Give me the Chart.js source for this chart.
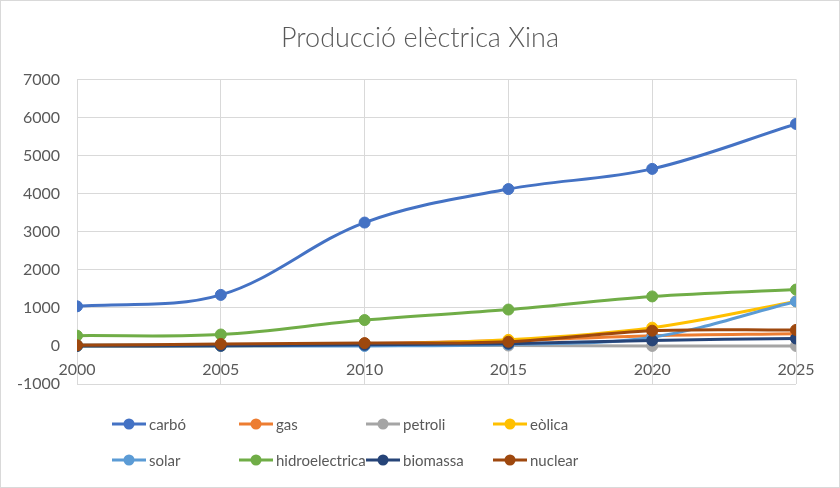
<!DOCTYPE html>
<html>
<head>
<meta charset="utf-8">
<script src="https://cdn.jsdelivr.net/npm/chart.js@4/dist/chart.umd.min.js"></script>
<style>
    body { margin: 0; background: #fff; }
    #wrap { width: 840px; height: 488px; }
</style>
</head>
<body>
<div id="wrap"><canvas id="chart" width="840" height="488"></canvas></div>
<script>
// dades (TWh aprox.)
const years = [2000, 2005, 2010, 2015, 2020, 2025];
const carbo = [1040, 1340, 3240, 4120, 4650, 5830];
const gas = [15, 25, 60, 140, 270, 320];
const petroli = [30, 25, 10, 10, 0, 0];
const eolica = [0, 2, 40, 160, 480, 1170];
const solar = [0, 0, 1, 40, 230, 1170];
const hidro = [270, 300, 680, 955, 1300, 1480];
const biomassa = [0, 5, 30, 60, 145, 195];
const nuclear = [17, 50, 74, 110, 400, 420];

const seriesNames = ['carbó', 'gas', 'petroli', 'eòlica', 'solar', 'hidroelectrica', 'biomassa', 'nuclear'];
const seriesValues = [carbo, gas, petroli, eolica, solar, hidro, biomassa, nuclear];
const seriesColors = ['#4472C4', '#ED7D31', '#A5A5A5', '#FFC000', '#5B9BD5', '#70AD47', '#264478', '#9E480E'];

const yTicks = [-1000, 0, 1000, 2000, 3000, 4000, 5000, 6000, 7000];

const textColor = '#595959';
const gridColor = '#d9d9d9';
const fontFamily = 'Lato, Calibri, Carlito, sans-serif';

const datasets = seriesNames.map((name, i) => ({
    label: name,
    data: years.map((y, j) => ({ x: y, y: seriesValues[i][j] })),
    borderColor: seriesColors[i],
    backgroundColor: seriesColors[i],
    pointBackgroundColor: seriesColors[i],
    pointBorderColor: seriesColors[i],
    borderWidth: 3,
    pointRadius: 5.5,
    pointBorderWidth: 1,
    tension: 0.35,
    fill: false,
    order: seriesNames.length - i   // later series on top, like Excel
}));

// fons blanc + vora exterior
const frame = {
    id: 'frame',
    beforeDraw(chart) {
        const ctx = chart.ctx;
        ctx.save();
        ctx.fillStyle = '#fff';
        ctx.fillRect(0, 0, chart.width, chart.height);
        ctx.strokeStyle = gridColor;
        ctx.lineWidth = 1;
        ctx.strokeRect(0.5, 0.5, chart.width - 1, chart.height - 1);
        ctx.restore();
    }
};

// llegenda en graella de 4 columnes
const gridLegend = {
    id: 'gridLegend',
    afterDraw(chart) {
        const ctx = chart.ctx;
        const colW = 127, rowH = 36;
        const startX = 112, startY = chart.chartArea.bottom + 40;
        ctx.save();
        ctx.font = '15px ' + fontFamily;
        ctx.textBaseline = 'middle';
        ctx.textAlign = 'left';
        chart.data.datasets.forEach((ds, i) => {
            const x = startX + (i % 4) * colW;
            const y = startY + Math.floor(i / 4) * rowH;
            ctx.strokeStyle = ds.borderColor;
            ctx.lineWidth = 3;
            ctx.beginPath();
            ctx.moveTo(x, y);
            ctx.lineTo(x + 34, y);
            ctx.stroke();
            ctx.fillStyle = ds.borderColor;
            ctx.beginPath();
            ctx.arc(x + 17, y, 5.5, 0, Math.PI * 2);
            ctx.fill();
            ctx.fillStyle = textColor;
            ctx.fillText(ds.label, x + 37, y + 1);
        });
        ctx.restore();
    }
};

new Chart(document.getElementById('chart'), {
    type: 'line',
    data: { datasets },
    options: {
        responsive: false,
        animation: false,
        layout: { padding: { left: 0, right: 0, top: 0, bottom: 104 } },
        plugins: {
            legend: { display: false },
            tooltip: { enabled: false },
            title: {
                display: true,
                text: 'Producció elèctrica Xina',
                color: textColor,
                font: { family: fontFamily, size: 27, weight: '300' },
                padding: { top: 22, bottom: 25 }
            }
        },
        scales: {
            x: {
                type: 'linear',
                position: { y: 0 },
                min: years[0],
                max: years[years.length - 1],
                ticks: {
                    stepSize: 5,
                    autoSkip: false,
                    maxRotation: 0,
                    color: textColor,
                    font: { family: fontFamily, size: 16 },
                    padding: 14,
                    callback: v => String(v)
                },
                grid: { color: gridColor, lineWidth: 1, drawTicks: false },
                border: { color: gridColor }
            },
            y: {
                min: yTicks[0],
                max: yTicks[yTicks.length - 1],
                afterBuildTicks: scale => { scale.ticks = yTicks.map(v => ({ value: v })); },
                afterFit: scale => { scale.width = 77; },
                ticks: {
                    color: textColor,
                    font: { family: fontFamily, size: 16 },
                    padding: 17,
                    callback: v => String(v)
                },
                grid: { color: gridColor, lineWidth: 1, drawTicks: false },
                border: { color: gridColor }
            },
            // empty right margin so the title stays centred on the whole canvas
            yRight: {
                position: 'right',
                display: true,
                afterFit: scale => { scale.width = 44; },
                ticks: { display: false },
                grid: { display: false, drawTicks: false },
                border: { display: false }
            }
        }
    },
    plugins: [frame, gridLegend]
});
</script>
</body>
</html>
